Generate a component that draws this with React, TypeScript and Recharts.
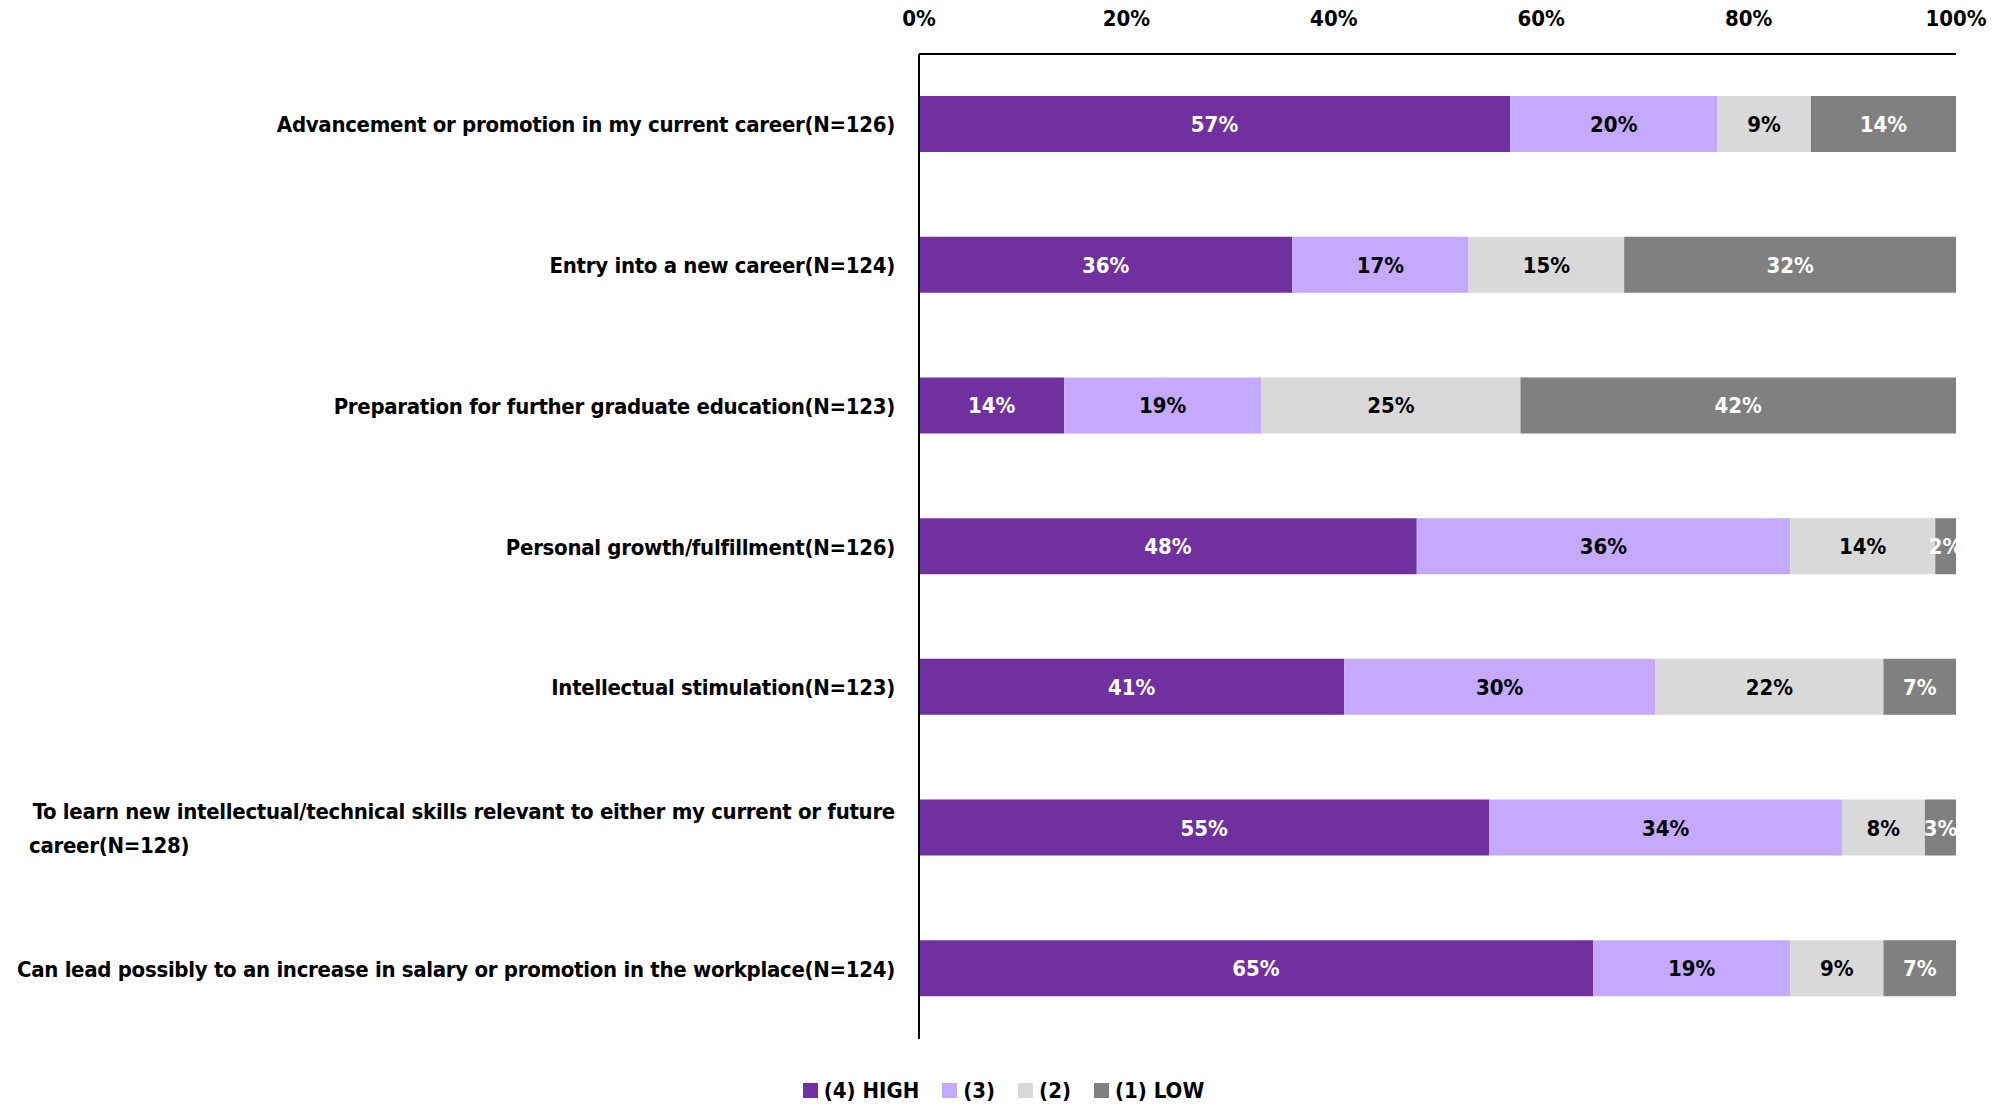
import React from 'react';
import { BarChart, Bar, XAxis, YAxis, LabelList } from 'recharts';

const categories = [
  'Advancement or promotion in my current career(N=126)',
  'Entry into a new career(N=124)',
  'Preparation for further graduate education(N=123)',
  'Personal growth/fulfillment(N=126)',
  'Intellectual stimulation(N=123)',
  'To learn new intellectual/technical skills relevant to either my current or future|career(N=128)',
  'Can lead possibly to an increase in salary or promotion in the workplace(N=124)',
];

const high = [57, 36, 14, 48, 41, 55, 65];
const three = [20, 17, 19, 36, 30, 34, 19];
const two = [9, 15, 25, 14, 22, 8, 9];
const low = [14, 32, 42, 2, 7, 3, 7];

const xTicks = [0, 20, 40, 60, 80, 100];

const seriesNames = ['(4) HIGH', '(3)', '(2)', '(1) LOW'];
const seriesColors = ['#7030A0', '#C5A9FC', '#D9D9D9', '#808080'];
const labelColors = ['#FFFFFF', '#000000', '#000000', '#FFFFFF'];

const data = categories.map((name, i) => ({
  name,
  high: high[i],
  three: three[i],
  two: two[i],
  low: low[i],
}));

const keys = ['high', 'three', 'two', 'low'];

const FONT = '"DejaVu Sans Condensed", "DejaVu Sans", sans-serif';
const FS = 22;

const CategoryTick = (props: any) => {
  const { x, y, payload } = props;
  const lines: string[] = String(payload.value).split('|');
  const common = { fontFamily: FONT, fontWeight: 'bold', fontSize: FS, fill: '#000', letterSpacing: -0.3 };
  if (lines.length === 1) {
    return (
      <text x={x} y={y} dy={8} textAnchor="end" {...common}>
        {lines[0]}
      </text>
    );
  }
  // wrapped label: first line right-aligned, next lines start at the block's left edge
  const blockWidth = 866;
  return (
    <g>
      <text x={x} y={y - 17} dy={8} textAnchor="end" {...common}>
        {lines[0]}
      </text>
      {lines.slice(1).map((l, j) => (
        <text key={j} x={x - blockWidth} y={y + 17 + j * 34} dy={8} textAnchor="start" {...common}>
          {l}
        </text>
      ))}
    </g>
  );
};

let clipSeq = 0;
const makeLabel = (color: string) => (props: any) => {
  const { x, y, width, height, value } = props;
  const id = `lbl-clip-${clipSeq++}`;
  return (
    <g>
      <clipPath id={id}>
        <rect x={0} y={y - 10} width={x + width} height={height + 20} />
      </clipPath>
      <text
        x={x + width / 2}
        y={y + height / 2}
        dy={8}
        textAnchor="middle"
        fontFamily={FONT}
        fontWeight="bold"
        fontSize={FS}
        fill={color}
        clipPath={`url(#${id})`}
      >
        {`${value}%`}
      </text>
    </g>
  );
};

const ChartLegend = () => (
  <div
    style={{
      position: 'absolute',
      left: 0,
      top: 1078,
      width: 2007,
      display: 'flex',
      justifyContent: 'center',
      fontFamily: FONT,
      fontWeight: 'bold',
      fontSize: FS,
      color: '#000',
    }}
  >
    {seriesNames.map((n, i) => (
      <div key={n} style={{ display: 'flex', alignItems: 'center', marginRight: i < seriesNames.length - 1 ? 23 : 0 }}>
        <span style={{ display: 'inline-block', width: 15, height: 15, background: seriesColors[i], marginRight: 6 }} />
        <span>{n}</span>
      </div>
    ))}
  </div>
);

export default function App() {
  return (
    <div style={{ position: 'absolute', left: 0, top: 0, width: 2007, height: 1109, background: '#fff' }}>
      <BarChart
        width={2007}
        height={1109}
        data={data}
        layout="vertical"
        margin={{ top: 0, right: 51, bottom: 70, left: 0 }}
        barSize={56}
      >
        <XAxis
          type="number"
          orientation="top"
          domain={[0, 100]}
          ticks={xTicks}
          tickFormatter={(v: number) => `${v}%`}
          tickLine={false}
          tickSize={0}
          tickMargin={28}
          height={54}
          axisLine={{ stroke: '#000', strokeWidth: 2 }}
          tick={{ fontFamily: FONT, fontWeight: 'bold', fontSize: FS, fill: '#000' }}
          interval={0}
        />
        <YAxis
          type="category"
          dataKey="name"
          width={919}
          tickLine={false}
          tickSize={0}
          tickMargin={24}
          axisLine={{ stroke: '#000', strokeWidth: 2 }}
          tick={<CategoryTick />}
          interval={0}
        />
        {keys.map((k, i) => (
          <Bar
            key={k}
            dataKey={k}
            stackId="a"
            name={seriesNames[i]}
            fill={seriesColors[i]}
            isAnimationActive={false}
          >
            <LabelList dataKey={k} content={makeLabel(labelColors[i])} />
          </Bar>
        ))}
      </BarChart>
      <ChartLegend />
    </div>
  );
}
